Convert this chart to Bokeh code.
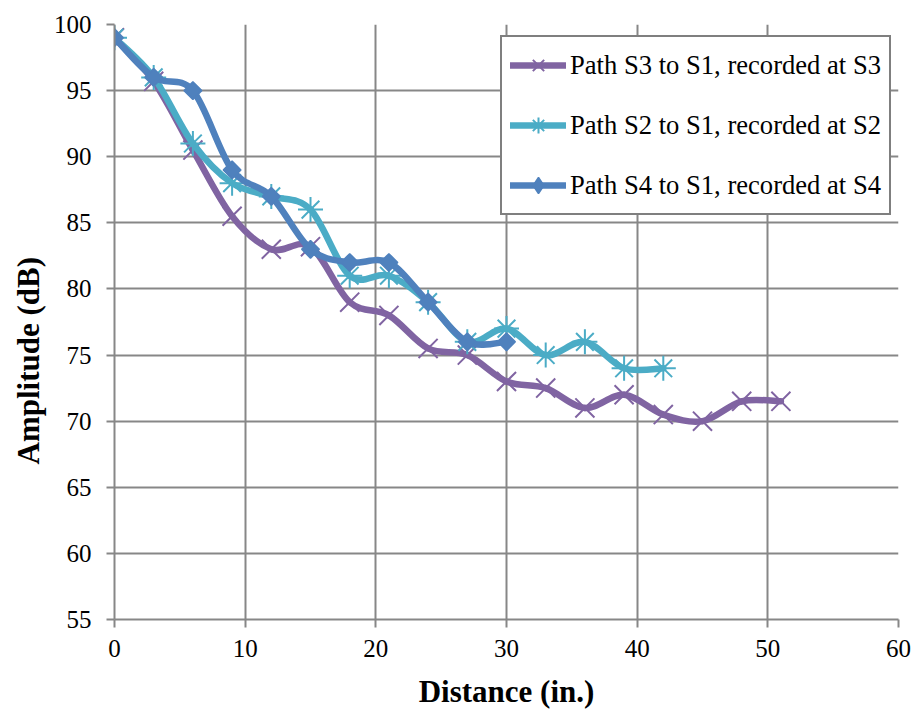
import math
from bokeh.plotting import figure
from bokeh.models import Range1d, Legend, LegendItem, Title, FixedTicker, ColumnDataSource
from bokeh.embed import file_html
from bokeh.resources import INLINE

# ---- data ----
s3_x = [0, 3, 6, 9, 12, 15, 18, 21, 24, 27, 30, 33, 36, 39, 42, 45, 48, 51]
s3_y = [99, 95.7, 90.5, 85.5, 83, 83.2, 79, 78, 75.5, 75, 73, 72.5, 71, 72, 70.5, 70, 71.5, 71.5]
s2_x = [0, 3, 6, 9, 12, 15, 18, 21, 24, 27, 30, 33, 36, 39, 42]
s2_y = [99, 96, 91, 88, 87, 86, 81, 81, 79, 76, 77, 75, 76, 74, 74]
s4_x = [0, 3, 6, 9, 12, 15, 18, 21, 24, 27, 30]
s4_y = [99, 96, 95, 89, 87, 83, 82, 82, 79, 76, 76]
labels = ["Path S3 to S1, recorded at S3",
          "Path S2 to S1, recorded at S2",
          "Path S4 to S1, recorded at S4"]
x_ticks = [0, 10, 20, 30, 40, 50, 60]
y_ticks = [55, 60, 65, 70, 75, 80, 85, 90, 95, 100]

colors = ["#8064A2", "#4BACC6", "#4F81BD"]
FONT = "Liberation Serif"

p = figure(width=915, height=711, output_backend="svg", toolbar_location=None,
           x_range=Range1d(0, 60), y_range=Range1d(55, 100),
           min_border_left=114, min_border_right=17, min_border_top=24, min_border_bottom=91)
p.outline_line_color = None
p.background_fill_color = "white"
p.border_fill_color = "white"

for ax in (p.xaxis[0], p.yaxis[0]):
    ax.axis_line_color = "#878787"
    ax.axis_line_width = 2
    ax.major_tick_line_color = "#878787"
    ax.major_tick_line_width = 2
    ax.major_tick_out = 8
    ax.major_tick_in = 0
    ax.minor_tick_line_color = None
    ax.major_label_text_font = FONT
    ax.major_label_text_font_size = "25px"
    ax.major_label_text_color = "black"

p.xaxis[0].ticker = FixedTicker(ticks=x_ticks)
p.yaxis[0].ticker = FixedTicker(ticks=y_ticks)
p.xaxis[0].major_label_standoff = 12
p.yaxis[0].major_label_standoff = 15
p.xaxis[0].axis_label = "Distance (in.)"
p.xaxis[0].axis_label_text_font = FONT
p.xaxis[0].axis_label_text_font_style = "bold"
p.xaxis[0].axis_label_text_font_size = "31px"
p.xaxis[0].axis_label_text_color = "black"
p.xaxis[0].axis_label_standoff = 14

p.xgrid.ticker = FixedTicker(ticks=x_ticks)
p.ygrid.ticker = FixedTicker(ticks=y_ticks)
for g in (p.xgrid[0], p.ygrid[0]):
    g.grid_line_color = "#878787"
    g.grid_line_width = 2

p.add_layout(Title(text="Amplitude (dB)", align="left", offset=155,
                   text_font=FONT, text_font_style="bold", text_font_size="31px",
                   text_color="black"), "left")


def smooth_segments(xs, ys):
    n = len(xs)
    d = dict(x0=[], y0=[], x1=[], y1=[], cx0=[], cy0=[], cx1=[], cy1=[])
    for i in range(n - 1):
        i0 = max(i - 1, 0)
        i3 = min(i + 2, n - 1)
        d["x0"].append(xs[i]); d["y0"].append(ys[i])
        d["x1"].append(xs[i + 1]); d["y1"].append(ys[i + 1])
        d["cx0"].append(xs[i] + (xs[i + 1] - xs[i0]) / 6)
        d["cy0"].append(ys[i] + (ys[i + 1] - ys[i0]) / 6)
        d["cx1"].append(xs[i + 1] - (xs[i3] - xs[i]) / 6)
        d["cy1"].append(ys[i + 1] - (ys[i3] - ys[i]) / 6)
    return ColumnDataSource(d)


NAN = [float("nan")]
series = [(s3_x, s3_y), (s2_x, s2_y), (s4_x, s4_y)]
items = []
for k, (xs, ys) in enumerate(series):
    c = colors[k]
    p.bezier(x0="x0", y0="y0", x1="x1", y1="y1", cx0="cx0", cy0="cy0", cx1="cx1", cy1="cy1",
             source=smooth_segments(xs, ys), line_color=c, line_width=6.5, line_cap="round")
    leg_line = p.line(x=NAN, y=NAN, line_color=c, line_width=6.5, line_cap="round")
    if k == 0:
        m = p.scatter(xs, ys, marker="x", size=27, line_color=c, line_width=2)
        lm = m
    elif k == 1:
        m = p.scatter(xs, ys, marker="asterisk", size=25, line_color=c, line_width=2)
        lm = m
    else:
        m = p.scatter(xs, ys, marker="square", size=12.5, angle=math.pi / 4,
                      fill_color=c, line_color=c, line_width=1.5)
        lm = p.scatter(NAN, NAN, marker="diamond", size=18, fill_color=c, line_color=c, line_width=1.5)
    items.append(LegendItem(label=labels[k], renderers=[leg_line, lm]))

legend = Legend(items=items, location=(386, 404), orientation="vertical",
                label_text_font=FONT, label_text_font_size="26.6px", label_text_color="black",
                border_line_color="black", border_line_width=2, background_fill_color="white",
                background_fill_alpha=1.0, glyph_width=56, glyph_height=40, label_height=40,
                label_standoff=4, spacing=20, padding=8, margin=0)
p.add_layout(legend, "center")

open("out.html", "w").write(file_html(p, INLINE))
